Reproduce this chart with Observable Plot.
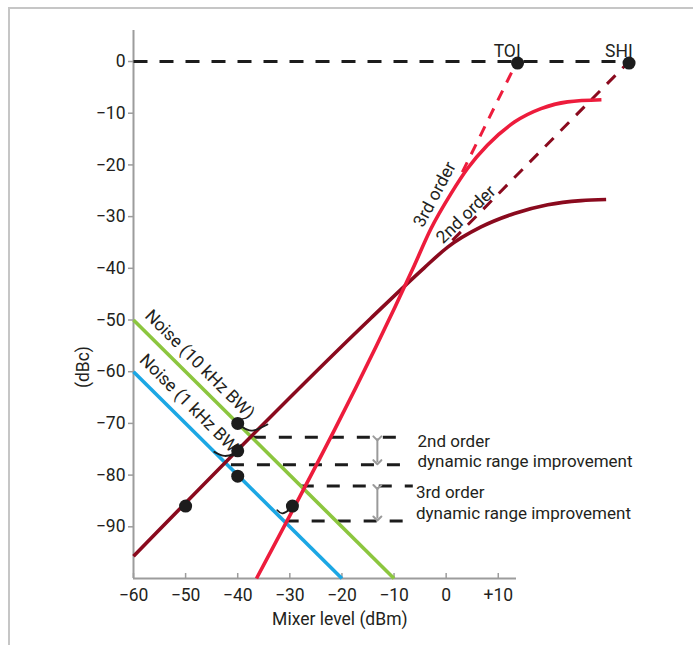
<!DOCTYPE html>
<html><head><meta charset="utf-8">
<script src="https://cdn.jsdelivr.net/npm/d3@7"></script>
<script src="https://cdn.jsdelivr.net/npm/@observablehq/plot@0.6"></script>
<style>
body{margin:0;background:#fff;}
#wrap{position:relative;width:693px;height:645px;overflow:hidden;}
#frame{position:absolute;left:8px;top:7px;width:720px;height:720px;border-left:2px solid #c6c6c6;border-top:2px solid #c6c6c6;pointer-events:none;}
#chart{position:absolute;left:0;top:0;}
</style></head><body>
<div id="wrap"><div id="chart"></div><div id="frame"></div></div>
<script>
// ---- axes ----
const xDomain = [-60, 13.5];
const yDomain = [-100, 6];
const xTicks = [-60, -50, -40, -30, -20, -10, 0, 10];
const xTickLabels = ["−60", "−50", "−40", "−30", "−20", "−10", "0", "+10"];
const yTicks = [0, -10, -20, -30, -40, -50, -60, -70, -80, -90];
const yTickLabels = ["0", "−10", "−20", "−30", "−40", "−50", "−60", "−70", "−80", "−90"];

// ---- series (x = mixer level dBm, y = dBc) ----
const noise10k = [[-60, -50], [-10, -100]];
const noise1k = [[-60, -60], [-20, -100]];
const secondOrder = [[-60, -95.7], [-14.5, -49.7], [-4.2, -39.9], [0.3, -35.9], [6.7, -32.0], [13.1, -29.4], [19.5, -27.7], [25.9, -26.9], [30.7, -26.7]];
const secondOrderExt = [[1.2, -34.6], [35.1, 0]];
const thirdOrder = [[-36.4, -100], [-6.4, -40.1], [-2.9, -32.3], [0.9, -25.6], [4.1, -20.7], [7.9, -16.2], [13.1, -11.7], [18.2, -9.1], [23.3, -7.8], [29.8, -7.4]];
const thirdOrderExt = [[3.1, -21.4], [13.6, 0]];
const interceptLine = [[-60, 0], [35.1, 0]];

// dynamic range dashed levels
const drLevels = [-72.7, -78.0, -82.1, -88.9];
const drStarts = [-37.1, -41.3, -27.9, -30.8];
const drEnds = [-8.7, -8.7, -6.4, -8.1];

// improvement arrows
const arrowX = [-13.2, -13.2];
const arrowTop = [-72.9, -82.3];
const arrowBottom = [-77.5, -88.4];

// points
const dotX = [-50, -40, -40, -40, -29.5, 13.7, 35.1];
const dotY = [-86.0, -75.3, -70.0, -80.2, -86.0, -0.3, -0.3];

// connector arcs
const arcs = [
  [[-39.1, -70.7], [-37.2, -71.4], [-34.3, -70.2]],
  [[-44.5, -75.5], [-42.5, -76.3], [-40.6, -75.8]],
  [[-32.4, -86.8], [-31.4, -87.4], [-29.8, -86.5]]
];

// labels
const lineLabels = ["Noise (10 kHz BW)", "Noise (1 kHz BW)", "3rd order", "2nd order"];
const lineLabelX = [-47.3, -49.0, -2.2, 3.8];
const lineLabelY = [-58.6, -66.5, -25.7, -29.6];
const lineLabelAngle = [45, 45, -62, -44];

const drText = ["2nd order\ndynamic range improvement", "3rd order\ndynamic range improvement"];
const drTextX = [-5.5, -5.8];
const drTextY = [-78.4, -88.4];

const pointLabels = ["TOI", "SHI"];
const pointLabelX = [14.3, 35.8];
const pointLabelY = [0.9, 0.9];

const xLabel = "Mixer level (dBm)";
const yLabel = "(dBc)";

// ---- helpers ----
const pts = a => a.map(([x, y]) => ({x, y}));
const C = {green: "#8cc63f", blue: "#1ca7e4", dark: "#8a0a1e", red: "#ed1c3c", black: "#1c1c1c", axis: "#9c9c9c", text: "#231f20"};
const drRows = drLevels.map((y, i) => ({y, x1: drStarts[i], x2: drEnds[i]}));
const arrowRows = arrowX.map((x, i) => ({x, y1: arrowTop[i], y2: arrowBottom[i]}));
const dotRows = dotX.map((x, i) => ({x, y: dotY[i]}));
const arcRows = arcs.flatMap((a, k) => a.map(([x, y]) => ({x, y, k})));
const labelRows = lineLabels.map((t, i) => ({t, x: lineLabelX[i], y: lineLabelY[i], a: lineLabelAngle[i]}));
const drTextRows = drText.map((t, i) => ({t, x: drTextX[i], y: drTextY[i]}));
const ptLabelRows = pointLabels.map((t, i) => ({t, x: pointLabelX[i], y: pointLabelY[i]}));

const lw = 3.6;
const chart = Plot.plot({
  width: 693, height: 645,
  marginLeft: 133, marginRight: 177, marginTop: 30, marginBottom: 67,
  style: {background: "transparent", color: C.text, fontFamily: "Roboto, 'Liberation Sans', sans-serif", fontSize: "17.5px"},
  x: {domain: xDomain, ticks: xTicks, tickFormat: d => xTickLabels[xTicks.indexOf(d)], tickSize: 0, tickPadding: 10, label: null},
  y: {domain: yDomain, ticks: yTicks, tickFormat: d => yTickLabels[yTicks.indexOf(d)], tickSize: 0, tickPadding: 8, label: null},
  marks: [
    // axis lines & ticks
    Plot.ruleX([xDomain[0]], {y1: yDomain[0], y2: yDomain[1], stroke: C.axis, strokeWidth: 2}),
    Plot.ruleY([yDomain[0]], {x1: xDomain[0], x2: xDomain[1], stroke: C.axis, strokeWidth: 2}),
    Plot.ruleX(xTicks, {y1: yDomain[0], y2: yDomain[0], insetTop: -5, insetBottom: 0, stroke: C.axis, strokeWidth: 1.5}),
    Plot.ruleY(yTicks, {x1: xDomain[0], x2: xDomain[0], insetLeft: -5, insetRight: 0, stroke: C.axis, strokeWidth: 1.5}),
    // 0 dBc intercept line
    Plot.line(pts(interceptLine), {x: "x", y: "y", stroke: C.black, strokeWidth: 3, strokeDasharray: "14,12", strokeLinecap: "butt"}),
    // dynamic range levels
    Plot.link(drRows, {x1: "x1", x2: "x2", y1: "y", y2: "y", stroke: C.black, strokeWidth: 3, strokeDasharray: "13,13", strokeLinecap: "butt"}),
    Plot.link(arrowRows, {x1: "x", x2: "x", y1: "y1", y2: "y2", stroke: "#9a9a9a", strokeWidth: 2, markerStart: "arrow", markerEnd: "arrow"}),
    // noise
    Plot.line(pts(noise10k), {x: "x", y: "y", stroke: C.green, strokeWidth: lw, strokeLinecap: "butt"}),
    Plot.line(pts(noise1k), {x: "x", y: "y", stroke: C.blue, strokeWidth: lw, strokeLinecap: "butt"}),
    // distortion
    Plot.line(pts(secondOrderExt), {x: "x", y: "y", stroke: C.dark, strokeWidth: 3, strokeDasharray: "12,10", strokeLinecap: "butt"}),
    Plot.line(pts(thirdOrderExt), {x: "x", y: "y", stroke: C.red, strokeWidth: 3, strokeDasharray: "11,9", strokeLinecap: "butt"}),
    Plot.line(pts(secondOrder), {x: "x", y: "y", stroke: C.dark, strokeWidth: lw, curve: "monotone-x", strokeLinecap: "butt"}),
    Plot.line(pts(thirdOrder), {x: "x", y: "y", stroke: C.red, strokeWidth: lw, curve: "monotone-x", strokeLinecap: "butt"}),
    // labels
    Plot.text(labelRows, {x: "x", y: "y", text: "t", rotate: "a", fontSize: 17.5, fill: C.text}),
    Plot.text(drTextRows, {x: "x", y: "y", text: "t", textAnchor: "start", lineAnchor: "bottom", lineHeight: 1.18, fontSize: 17, fill: C.text}),
    Plot.text(ptLabelRows, {x: "x", y: "y", text: "t", textAnchor: "end", lineAnchor: "bottom", fontSize: 17.5, fill: C.text}),
    Plot.text([xLabel], {x: -20.4, y: -107.9, text: d => d, fontSize: 17.5, fill: C.text}),
    Plot.text([yLabel], {x: -69.7, y: -59.1, text: d => d, rotate: -90, fontSize: 17.5, fill: C.text}),
    // arcs & dots
    Plot.line(arcRows, {x: "x", y: "y", z: "k", curve: "natural", stroke: C.black, strokeWidth: 1.8}),
    Plot.dot(dotRows, {x: "x", y: "y", r: 6.5, fill: C.black})
  ]
});
document.getElementById("chart").appendChild(chart);
</script>
</body></html>
